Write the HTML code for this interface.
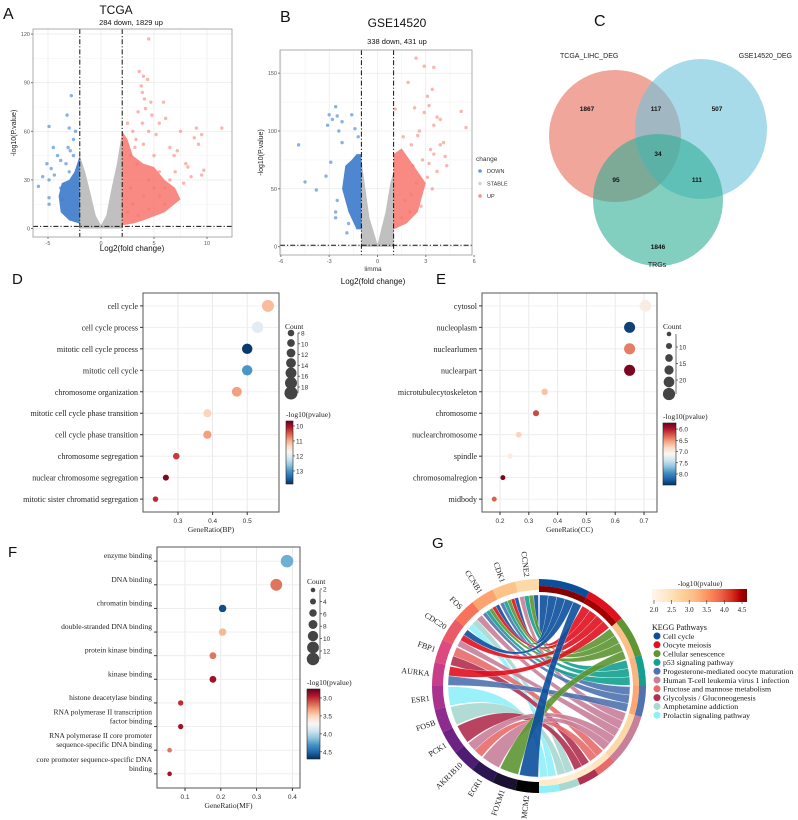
<!DOCTYPE html>
<html><head><meta charset="utf-8"><style>
html,body{margin:0;padding:0;background:#fff}
svg{display:block}
text{font-family:"Liberation Sans",sans-serif}
.serif{font-family:"Liberation Serif",serif}
</style></head><body>
<svg id="fig" width="798" height="820" viewBox="0 0 798 820" xmlns="http://www.w3.org/2000/svg">
<defs>
<linearGradient id="rdbu" x1="0" y1="0" x2="0" y2="1">
<stop offset="0" stop-color="#67001f"/><stop offset="0.1" stop-color="#b2182b"/><stop offset="0.2" stop-color="#d6604d"/><stop offset="0.3" stop-color="#f4a582"/><stop offset="0.4" stop-color="#fddbc7"/><stop offset="0.5" stop-color="#f7f7f7"/><stop offset="0.6" stop-color="#d1e5f0"/><stop offset="0.7" stop-color="#92c5de"/><stop offset="0.8" stop-color="#4393c3"/><stop offset="0.9" stop-color="#2166ac"/><stop offset="1" stop-color="#053061"/>
</linearGradient>
<linearGradient id="orrd" x1="0" y1="0" x2="1" y2="0">
<stop offset="0" stop-color="#fff7ec"/><stop offset="0.15" stop-color="#fee8c8"/><stop offset="0.3" stop-color="#fdd49e"/><stop offset="0.45" stop-color="#fdbb84"/><stop offset="0.6" stop-color="#fc8d59"/><stop offset="0.72" stop-color="#ef6548"/><stop offset="0.84" stop-color="#d7301f"/><stop offset="0.93" stop-color="#b30000"/><stop offset="1" stop-color="#7f0000"/>
</linearGradient>
</defs>
</svg>
<script>
// ---------- Panel A data ----------
const aGrayEnvX=[-2,-1.5,-1,-0.5,0,0.5,1,1.5,2];
const aGrayEnvY=[45,35,22,8,2,8,25,40,60];
const aBlueDenseX=[-2,-2,-2.5,-3,-3.7,-4,-3.8,-3];
const aBlueDenseY=[3,45,35,30,28,20,10,5];
const aRedDenseX=[2,2,2.5,3,4,5,6,7,7.5,6,4,3];
const aRedDenseY=[2,60,55,45,40,38,30,25,18,10,5,3];
const aRedX=[4.5,3.6,4,4.4,3.8,3.9,4.1,4.7,5.9,4.2,3.5,4.8,6.1,5.5,3.9,7.5,4.5,5.2,9,9.5,11.4,8.8,9.2,3.3,4,6.5,7.2,6.9,5,8,9.7,9.5,8.5,7,6.5,5.5,3.2,2.8,6,3,2.5,3.4,4.5,5,4,3,2.5,3.5,2.8,5.5,6,4.5,7.8,8.2];
const aRedY=[117,97,94,92,88,84,80,78,78,74,72,70,68,65,65,60,60,58,62,58,62,56,52,55,52,50,48,45,45,40,36,33,32,35,30,35,50,45,25,60,65,40,30,25,20,15,10,8,25,20,15,12,28,38];
const aBlueX=[-2.8,-3.2,-3,-2.4,-4.9,-4.5,-3.1,-2.9,-2.6,-3.3,-3.8,-4.1,-5.1,-4.7,-4.4,-5.5,-4.9,-5.9,-4.9,-4.9,-3.6,-3.8,-2.6,-3];
const aBlueY=[82,70,62,60,63,50,50,48,45,40,42,45,40,37,33,32,30,26,19,15,18,25,55,35];
const aXTicks=[-5,0,5,10];
const aYTicks=[0,30,60,90,120];
// ---------- Panel B data ----------
const bGrayEnvX=[-1,-0.8,-0.5,0,0.5,0.8,1];
const bGrayEnvY=[75,55,25,2,30,55,65];
const bBlueDenseX=[-1,-1,-1.3,-1.6,-2,-2.2,-1.8,-1.3];
const bBlueDenseY=[15,80,80,75,70,50,30,15];
const bRedDenseX=[1,1,1.5,2,2.5,3,2.5,1.8];
const bRedDenseY=[15,80,85,75,65,55,30,20];
const bBlueX=[-2.6,-3,-2.5,-1.6,-2.2,-2.8,-3.1,-2.4,-1.4,-4.9,-2.9,-3.2,-4.5,-3.8,-2.5,-2.6,-2.6,-1.9,-1.8,-2.2,-1.2];
const bBlueY=[121,114,113,114,108,110,105,100,102,88,73,61,56,49,40,30,25,12,20,90,95];
const bRedX=[2.4,2.9,3.5,1.9,3.4,3.1,3.2,1.1,2.3,2.9,5.2,5.5,3.7,3.9,3.5,2.6,2.5,4.1,1.6,2.1,4.2,3.3,3.5,4.3,2.8,3.7,3.1,2.4,3.4,2.1,1.7,2.7,1.5,2,3.2,3.9,2.2];
const bRedY=[163,156,155,142,136,130,122,119,120,116,117,103,112,110,105,100,96,90,95,88,78,84,80,70,75,65,60,55,50,45,40,35,25,30,72,88,70];
const bXTicks=[-6,-3,0,3,6];
const bYTicks=[0,50,100,150];
// ---------- Panel C data ----------
const vennSets=['TCGA_LIHC_DEG','GSE14520_DEG','TRGs'];
const vennCounts=['1867','117','507','34','95','111','1846'];
// ---------- Panel D data ----------
const dTerms=['cell cycle','cell cycle process','mitotic cell cycle process','mitotic cell cycle','chromosome organization','mitotic cell cycle phase transition','cell cycle phase transition','chromosome segregation','nuclear chromosome segregation','mitotic sister chromatid segregation'];
const dRatio=[0.56,0.53,0.50,0.50,0.47,0.385,0.385,0.295,0.265,0.235];
const dCount=[18,17,15,15,14,11,11,8,7,6];
const dPval=[11.1,12.0,13.8,13.0,10.9,11.3,10.9,10.3,9.8,10.2];
const dXTicks=[0.3,0.4,0.5];
// ---------- Panel E data ----------
const eTerms=['cytosol','nucleoplasm','nuclearlumen','nuclearpart','microtubulecytoskeleton','chromosome','nuclearchromosome','spindle','chromosomalregion','midbody'];
const eRatio=[0.705,0.65,0.65,0.65,0.355,0.325,0.265,0.235,0.21,0.18];
const eCount=[24,22,22,22,10,9,8,7,6,6];
const ePval=[7.0,8.4,6.4,5.8,6.7,6.2,6.8,7.0,5.8,6.3];
const eXTicks=[0.2,0.3,0.4,0.5,0.6,0.7];
// ---------- Panel F data ----------
const fTerms=[['enzyme binding'],['DNA binding'],['chromatin binding'],['double-stranded DNA binding'],['protein kinase binding'],['kinase binding'],['histone deacetylase binding'],['RNA polymerase II transcription','factor binding'],['RNA polymerase II core promoter','sequence-specific DNA binding'],['core promoter sequence-specific DNA','binding']];
const fRatio=[0.385,0.355,0.205,0.205,0.178,0.178,0.088,0.088,0.057,0.057];
const fCount=[13,12,6,6,5,5,3,3,2,2];
const fPval=[4.2,3.2,4.6,3.4,3.2,2.9,3.0,2.9,3.2,2.9];
const fXTicks=[0.1,0.2,0.3,0.4];
// ---------- Panel G data ----------
const genes=['CCNE2','CDK1','CCNB1','FOS','CDC20','FBP1','AURKA','ESR1','FOSB','PCK1','AKR1B10','EGR1','FOXM1','MCM2'];
const pathways=['Cell cycle','Oocyte meiosis','Cellular senescence','p53 signaling pathway','Progesterone-mediated oocyte maturation','Human T-cell leukemia virus 1 infection','Fructose and mannose metabolism','Glycolysis / Gluconeogenesis','Amphetamine addiction','Prolactin signaling pathway'];
const pathwayLogP=[4.8,4.6,3.0,3.1,3.2,2.6,2.4,2.3,2.2,2.3];
const linkGene=[0,0,0,0,1,1,1,1,1,2,2,2,2,2,3,3,3,4,4,4,5,5,6,6,7,8,9,10,10,11,12,13];
const linkPath=[0,2,3,5,0,1,2,3,4,0,1,2,3,4,5,8,9,0,1,5,6,7,1,4,9,8,7,6,5,5,2,0];

const NS='http://www.w3.org/2000/svg';
const svg=document.getElementById('fig');
function mk(tag,attrs,parent){const e=document.createElementNS(NS,tag);for(const k in attrs)e.setAttribute(k,attrs[k]);(parent||svg).appendChild(e);return e;}
function txt(x,y,s,size,anchor,cls,parent,fill){const t=mk('text',{x:x,y:y,'font-size':size,'text-anchor':anchor||'start',fill:fill||'#111'},parent);if(cls)t.setAttribute('class',cls);t.textContent=s;return t;}
function grp(name){const g=mk('g',{});return g;}

const rdStops=['#67001f','#b2182b','#d6604d','#f4a582','#fddbc7','#f7f7f7','#d1e5f0','#92c5de','#4393c3','#2166ac','#053061'];
function hex(c){return [parseInt(c.slice(1,3),16),parseInt(c.slice(3,5),16),parseInt(c.slice(5,7),16)];}
function interp(stops,t){t=Math.max(0,Math.min(1,t));const p=t*(stops.length-1);const i=Math.min(stops.length-2,Math.floor(p));const f=p-i;const a=hex(stops[i]),b=hex(stops[i+1]);return 'rgb('+a.map((v,j)=>Math.round(v+(b[j]-v)*f)).join(',')+')';}
const orStops=['#fff7ec','#fee8c8','#fdd49e','#fdbb84','#fc8d59','#ef6548','#d7301f','#b30000','#7f0000'];

// ---------- Volcano ----------
function volcano(name,c,d){
  const g=grp(name);
  const X=v=>c.x0+v*c.kx, Y=v=>c.y0-v*c.ky;
  const [l,t,r,b]=c.box;
  mk('rect',{x:l,y:t,width:r-l,height:b-t,fill:'#fff'},g);
  const step=c.xticks[1]-c.xticks[0], ystep=c.yticks[1]-c.yticks[0];
  for(let v=c.xticks[0]-step/2;v<=c.xticks[c.xticks.length-1]+step;v+=step/2){const x=X(v);if(x>l&&x<r)mk('line',{x1:x,x2:x,y1:t,y2:b,stroke:(Math.abs((v-c.xticks[0])%step)<1e-6)?'#e6e6e6':'#f3f3f3','stroke-width':0.6},g);}
  for(let v=c.yticks[0]-ystep/2;v<=c.yticks[c.yticks.length-1]+ystep;v+=ystep/2){const y=Y(v);if(y>t&&y<b)mk('line',{x1:l,x2:r,y1:y,y2:y,stroke:(Math.abs((v-c.yticks[0])%ystep)<1e-6)?'#e6e6e6':'#f3f3f3','stroke-width':0.6},g);}
  const poly=(xs,ys,col,op,nm)=>{const p=mk('polygon',{points:xs.map((x,i)=>X(x)+','+Y(ys[i])).join(' '),fill:col,'fill-opacity':op},g);};
  const gx=[...d.grayX,d.grayX[d.grayX.length-1],d.grayX[0]], gy=[...d.grayY,0,0];
  poly(gx,gy,'#bdbdbd',0.95,'stable-points');
  poly(d.blueDX,d.blueDY,'#2f72c8',0.85,'down-points-dense');
  poly(d.redDX,d.redDY,'#f8766d',0.85,'up-points-dense');
  d.blueX.forEach((x,i)=>{const e=mk('circle',{cx:X(x),cy:Y(d.blueY[i]),r:1.7,fill:'#3a7ecf','fill-opacity':0.6},g);});
  d.redX.forEach((x,i)=>{const e=mk('circle',{cx:X(x),cy:Y(d.redY[i]),r:1.7,fill:'#f8766d','fill-opacity':0.55},g);});
  c.vlines.forEach(v=>{const e=mk('line',{x1:X(v),x2:X(v),y1:t,y2:b,stroke:'#111','stroke-width':1,'stroke-dasharray':'5,2,1.2,2'},g);});
  const hl=mk('line',{x1:l,x2:r,y1:Y(c.hline),y2:Y(c.hline),stroke:'#111','stroke-width':1,'stroke-dasharray':'5,2,1.2,2'},g);
  
  mk('rect',{x:l,y:t,width:r-l,height:b-t,fill:'none',stroke:'#9a9a9a','stroke-width':0.8},g);
  c.xticks.forEach(v=>{mk('line',{x1:X(v),x2:X(v),y1:b,y2:b+2,stroke:'#777'},g);txt(X(v),b+8,String(v),5.5,'middle',null,g,'#555');});
  c.yticks.forEach(v=>{mk('line',{x1:l-2,x2:l,y1:Y(v),y2:Y(v),stroke:'#777'},g);txt(l-3,Y(v)+2,String(v),5.5,'end',null,g,'#555');});
  const yl=txt(c.ylx,(t+b)/2,'-log10(P.value)',7,'middle',null,g,'#222');yl.setAttribute('transform','rotate(-90 '+c.ylx+' '+(t+b)/2+')');
  
}
volcano('volcano-tcga',{x0:101,kx:10.6,y0:228.5,ky:1.62,box:[33,29,232,237],xticks:aXTicks,yticks:aYTicks,vlines:[-2,2],hline:1.3,ylx:16},
 {grayX:aGrayEnvX,grayY:aGrayEnvY,blueDX:aBlueDenseX,blueDY:aBlueDenseY,redDX:aRedDenseX,redDY:aRedDenseY,blueX:aBlueX,blueY:aBlueY,redX:aRedX,redY:aRedY});
volcano('volcano-gse14520',{x0:377.5,kx:16.1,y0:246.7,ky:1.157,box:[280,50,472,255],xticks:bXTicks,yticks:bYTicks,vlines:[-1,1],hline:1.3,ylx:263},
 {grayX:bGrayEnvX,grayY:bGrayEnvY,blueDX:bBlueDenseX,blueDY:bBlueDenseY,redDX:bRedDenseX,redDY:bRedDenseY,blueX:bBlueX,blueY:bBlueY,redX:bRedX,redY:bRedY});
let t;
t=txt(3,19,'A',16);
t=txt(116,14,'TCGA',12,'middle');
t=txt(131,25,'284 down, 1829 up',7.5,'middle');
t=txt(132,251,'Log2(fold change)',8,'middle');
t=txt(280,22,'B',16);
t=txt(397,27,'GSE14520',12,'middle');
t=txt(397,44,'338 down, 431 up',7.5,'middle');
t=txt(373,271,'limma',6.5,'middle',null,null,'#333');
t=txt(373,284,'Log2(fold change)',8,'middle');
// legend change
const lg=grp('change-legend');
txt(476,161,'change',6.5,'start',null,lg,'#333');
[['DOWN','#3a7ecf'],['STABLE','#c8c8c8'],['UP','#f8766d']].forEach((p,i)=>{const c=mk('circle',{cx:480,cy:171+i*12.5,r:1.8,fill:p[1],'fill-opacity':0.8},lg);txt(487,173+i*12.5,p[0],5.5,'start',null,lg,'#333');});

// ---------- Venn ----------
const vg=grp('venn-diagram');
const e1=mk('ellipse',{cx:615,cy:136,rx:66,ry:66,fill:'#e8705f','fill-opacity':0.62},vg);
const e2=mk('ellipse',{cx:701,cy:129,rx:66,ry:70,fill:'#6cc3dc','fill-opacity':0.6},vg);
const e3=mk('ellipse',{cx:658,cy:200,rx:65,ry:66,fill:'#2fae94','fill-opacity':0.6},vg);
const vpos=[[587,111],[656,111],[717,111],[658,156],[616,182],[697,182],[658,249]];
vennCounts.forEach((s,i)=>{const e=txt(vpos[i][0],vpos[i][1],s,6.5,'middle',null,vg,'#111');e.setAttribute('font-weight','bold');});
txt(560,58,vennSets[0],7,'start',null,vg,'#222');
txt(792,58,vennSets[1],7,'end',null,vg,'#222');
txt(657,267,vennSets[2],7,'middle',null,vg,'#222');
t=txt(594,26,'C',16);

// ---------- Dot plots ----------
function dotplot(name,c,terms,ratio,count,pval,xt){
  const g=grp(name);
  const X=v=>c.xa+(v-c.xv)*c.kx;
  const n=terms.length, rh=(c.b-c.t)/(n-1+1.2);
  const Yr=i=>c.t+(0.6+i)*rh;
  mk('rect',{x:c.l,y:c.t,width:c.r-c.l,height:c.b-c.t,fill:'#fff'},g);
  xt.forEach(v=>mk('line',{x1:X(v),x2:X(v),y1:c.t,y2:c.b,stroke:'#e4e4e4','stroke-width':0.8},g));
  terms.forEach((s,i)=>{mk('line',{x1:c.l,x2:c.r,y1:Yr(i),y2:Yr(i),stroke:'#ececec','stroke-width':0.8},g);});
  mk('rect',{x:c.l,y:c.t,width:c.r-c.l,height:c.b-c.t,fill:'none',stroke:'#555','stroke-width':1},g);
  terms.forEach((s,i)=>{
    const lines=Array.isArray(s)?s:[s];
    const y=Yr(i);
    lines.forEach((ln,j)=>{const e=txt(c.l-5,y-(lines.length-1-j)*9+(c.two?-3:3),ln,c.fs,'end','serif',g,'#222');});
    mk('line',{x1:c.l-3,x2:c.l,y1:y,y2:y,stroke:'#333'},g);
    const r=c.r0+(count[i]-c.c0)*c.rk;
    const col=interp(rdStops,(pval[i]-c.pmin)/(c.pmax-c.pmin));
    const dot=mk('circle',{cx:X(ratio[i]),cy:y,r:r,fill:col},g);
    
    
  });
  xt.forEach(v=>{mk('line',{x1:X(v),x2:X(v),y1:c.b,y2:c.b+3,stroke:'#333'},g);txt(X(v),c.b+11,v.toFixed(1),6.5,'middle',null,g,'#333');});
  const xl=txt((c.l+c.r)/2,c.b+20,c.xtitle,7.5,'middle','serif',g,'#222');
  // count legend
  const lgc=grp(name+'-count-legend');
  txt(c.lx-6,c.ly,'Count',7.5,'start','serif',lgc,'#222');
  c.lc.forEach((cv,i)=>{const r=c.r0+(cv-c.c0)*c.rk;const e=mk('circle',{cx:c.lx,cy:c.lys+i*c.lstep,r:r,fill:'#444'},lgc);});
  mk('line',{x1:c.lx+7,x2:c.lx+7,y1:c.lys,y2:c.lys+(c.lc.length-1)*c.lstep,stroke:'#333','stroke-width':0.7},lgc);
  c.ll.forEach((s,i)=>{mk('line',{x1:c.lx+7,x2:c.lx+9,y1:c.lly+i*c.llstep,y2:c.lly+i*c.llstep,stroke:'#333','stroke-width':0.7},lgc);txt(c.lx+10,c.lly+i*c.llstep+2.5,s,6.5,'start',null,lgc,'#333');});
  // colorbar
  const cb=grp(name+'-colorbar');
  txt(c.cx,c.ct-4,'-log10(pvalue)',7.5,'start','serif',cb,'#222');
  const bh=c.cbb-c.ct;
  mk('rect',{x:c.cx,y:c.ct,width:c.cw,height:bh,fill:'url(#rdbu)',stroke:'#222','stroke-width':0.6},cb);
  c.cticks.forEach(v=>{const y=c.ct+(v-c.pmin)/(c.pmax-c.pmin)*bh;mk('line',{x1:c.cx+c.cw,x2:c.cx+c.cw+2,y1:y,y2:y,stroke:'#222','stroke-width':0.6},cb);txt(c.cx+c.cw+3,y+2.5,String(v),6.5,'start',null,cb,'#333');});
}
dotplot('dotplot-bp',{l:143,r:279,t:293,b:512,xa:178,xv:0.3,kx:346,fs:8,xtitle:'GeneRatio(BP)',r0:3.3,c0:8,rk:0.27,pmin:9.67,pmax:13.87,
  lx:291,ly:329,lc:[8,10,12,14,16,18,20],lys:333,lstep:10,ll:['8','10','12','14','16','18'],lly:333,llstep:10.8,
  cx:286,ct:421,cbb:484,cw:7,cticks:[10,11,12,13]},dTerms,dRatio,dCount,dPval,dXTicks);
dotplot('dotplot-cc',{l:482,r:657,t:293,b:512,xa:500,xv:0.2,kx:288,fs:8,xtitle:'GeneRatio(CC)',r0:2.3,c0:5,rk:0.19,pmin:5.73,pmax:8.49,
  lx:669,ly:329,lc:[5,9,13,17,21,25],lys:334,lstep:12,ll:['10','15','20'],lly:347,llstep:16.5,
  cx:663,ct:423,cbb:485,cw:13,cticks:['6.0','6.5','7.0','7.5','8.0']},eTerms,eRatio,eCount,ePval,eXTicks);
dotplot('dotplot-mf',{l:157,r:300,t:547,b:788,xa:185,xv:0.1,kx:358,fs:7.5,two:true,xtitle:'GeneRatio(MF)',r0:2.3,c0:2,rk:0.36,pmin:2.75,pmax:4.7,
  lx:313,ly:584,lc:[2,4,6,8,10,12,13],lys:590,lstep:11.5,ll:['2','4','6','8','10','12'],lly:589,llstep:12.4,
  cx:307,ct:689,cbb:759,cw:13,cticks:['3.0','3.5','4.0','4.5']},fTerms,fRatio,fCount,fPval,fXTicks);
t=txt(12,284,'D',15);
t=txt(436,284,'E',15);
t=txt(8,557,'F',15);
t=txt(432,548,'G',15);

// ---------- Chord ----------
const pathColors=['#0b4f9c','#e0101e','#5d9632','#13a090','#4f72b0','#c8809a','#e86a6a','#b03050','#a8d8d0','#8ff0f8'];
const geneColors=['#fdd9a8','#fdc48a','#fca36f','#f8735a','#ec5a6a','#dd4a80','#c83d89','#a9328f','#8d2b8e','#6e2384','#4e1c72','#2c1650','#1a1030','#000000'];
const CX=539,CY=686;
const gc=grp('chord-diagram');
const P=(a,r)=>[CX+r*Math.sin(a*Math.PI/180),CY-r*Math.cos(a*Math.PI/180)];
function band(a0,a1,r0,r1){const p0=P(a0,r1),p1=P(a1,r1),p2=P(a1,r0),p3=P(a0,r0);const lg=(a1-a0)>180?1:0;return `M${p0} A${r1},${r1} 0 ${lg} 1 ${p1} L${p2} A${r0},${r0} 0 ${lg} 0 ${p3} Z`;}
const gw=180/genes.length, gap=0.8;
const nL=linkGene.length;
const pCount=pathways.map((_,p)=>linkPath.filter(v=>v===p).length);
const pStart=[];let acc=0;pathways.forEach((_,p)=>{pStart.push(acc);acc+=pCount[p]*180/nL;});
const gSlot={},pSlot={};
genes.forEach((_,k)=>{const ids=[...Array(nL).keys()].filter(i=>linkGene[i]===k).sort((a,b)=>linkPath[a]-linkPath[b]);const hi=360-k*gw-gap/2,lo=360-(k+1)*gw+gap/2,w=(hi-lo)/Math.max(1,ids.length);ids.forEach((i,j)=>{gSlot[i]=[hi-(j+1)*w,hi-j*w];});});
pathways.forEach((_,p)=>{const ids=[...Array(nL).keys()].filter(i=>linkPath[i]===p).sort((a,b)=>linkGene[a]-linkGene[b]);const lo=pStart[p]+gap/2,hi=pStart[p]+pCount[p]*180/nL-gap/2,w=(hi-lo)/Math.max(1,ids.length);ids.forEach((i,j)=>{pSlot[i]=[lo+j*w,lo+(j+1)*w];});});
const R=91;
for(let i=0;i<nL;i++){
  const [g0,g1]=gSlot[i],[p0,p1]=pSlot[i];
  const a=P(g0,R),b=P(g1,R),c=P(p0,R),d=P(p1,R);
  const dstr=`M${a} A${R},${R} 0 0 1 ${b} Q${CX},${CY} ${c} A${R},${R} 0 0 1 ${d} Q${CX},${CY} ${a} Z`;
  const rib=mk('path',{d:dstr,fill:pathColors[linkPath[i]],'fill-opacity':0.9,stroke:'#fff','stroke-width':0.3},gc);
  
  
}
genes.forEach((s,k)=>{
  const hi=360-k*gw,lo=hi-gw;
  const seg=mk('path',{d:band(lo,hi,96,107),fill:geneColors[k]},gc);
  
  
  const m=(lo+hi)/2,[x,y]=P(m,110);
  const lt=txt(x,y+2.5,s,8,'end','serif',gc,'#222');lt.setAttribute('transform',`rotate(${m-270} ${x} ${y})`);
});
pathways.forEach((s,p)=>{
  const a0=pStart[p],a1=a0+pCount[p]*180/nL;
  const seg=mk('path',{d:band(a0,a1,100,107),fill:pathColors[p]},gc);
  
  
  const s2=mk('path',{d:band(a0,a1,94,100),fill:interp(orStops,(pathwayLogP[p]-1.95)/(4.85-1.95))},gc);
  
  
});
// chord legend
const gl=grp('kegg-legend');
txt(700,586,'-log10(pvalue)',7.5,'middle','serif',gl,'#222');
mk('rect',{x:652,y:589,width:95,height:13,fill:'url(#orrd)'},gl);
['2.0','2.5','3.0','3.5','4.0','4.5'].forEach((s,i)=>{const x=654+i*17.6;mk('line',{x1:x,x2:x,y1:600,y2:604,stroke:'#333','stroke-width':0.6},gl);txt(x,612,s,7,'middle','serif',gl,'#222');});
txt(652,630,'KEGG Pathways',8,'start','serif',gl,'#111');
pathways.forEach((s,i)=>{const y=636+i*8.8;const c=mk('circle',{cx:657,cy:y,r:3.5,fill:pathColors[i]},gl);txt(663,y+2.8,s,7.8,'start','serif',gl,'#111');});
</script>
</body></html>
